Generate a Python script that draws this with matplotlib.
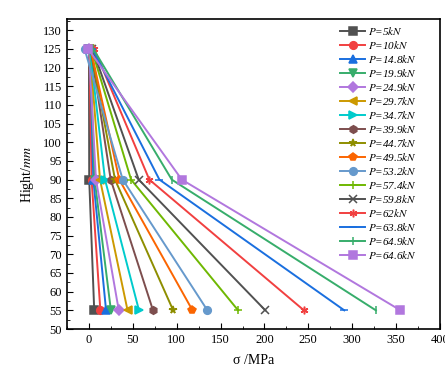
import matplotlib.pyplot as plt
from matplotlib.ticker import MultipleLocator

plt.rcParams['font.family'] = ['Liberation Serif', 'DejaVu Serif']
plt.rcParams['mathtext.fontset'] = 'stix'

# Measuring heights (mm)
heights = [125, 90, 55]

loads = ['5', '10', '14.8', '19.9', '24.9', '29.7', '34.7', '39.9', '44.7',
         '49.5', '53.2', '57.4', '59.8', '62', '63.8', '64.9', '64.6']

# Stress (MPa) at each height for every load level
s_top = [0, 0.5, 1, 1, 0, 1, 1, 2, 2, 2, -5, 3, 4, 6, 4, 5, -1]
s_mid = [0.3, 3, 5, 6.5, 8, 12.6, 18.3, 24.8, 29.7, 34.6, 38.5, 48, 56.7,
         68.8, 80.3, 94.4, 105.8]
s_bot = [6, 13, 19.5, 25, 34, 44, 57, 73, 96, 118, 135, 170, 201, 245,
         291, 327, 355]

colors = ['#515151', '#F14040', '#1A6FDF', '#37AD6B', '#B177DE', '#CC9900',
          '#00CBCC', '#7D4E4E', '#8E8E00', '#FB6501', '#6699CC', '#6FB802',
          '#515151', '#F14040', '#1A6FDF', '#37AD6B', '#B177DE']
markers = ['s', 'o', '^', 'v', 'D', '<', '>', 'h', '*', 'p', 'o', '+',
           'x', (6, 2, 0), '_', '|', 's']

fig = plt.figure(figsize=(4.45, 3.69), dpi=100)
ax = fig.add_axes([0.1506, 0.1084, 0.838, 0.840])

for i, p in enumerate(loads):
    xs = [s_top[i], s_mid[i], s_bot[i]]
    ax.plot(xs, heights, color=colors[i], marker=markers[i], markersize=5.5,
            markeredgewidth=1.1, linewidth=1.4, label='$P$=' + p + '$kN$')

ax.set_xlim(-25, 400)
ax.set_ylim(50, 133)
ax.xaxis.set_major_locator(MultipleLocator(50))
ax.xaxis.set_minor_locator(MultipleLocator(25))
ax.yaxis.set_major_locator(MultipleLocator(5))
ax.yaxis.set_minor_locator(MultipleLocator(2.5))
ax.tick_params(which='both', direction='in', top=False, right=False,
               labelsize=9)
ax.tick_params(which='major', length=4)
ax.tick_params(which='minor', length=2)
for sp in ax.spines.values():
    sp.set_linewidth(1.2)

ax.set_xlabel('σ /MPa', fontsize=10, labelpad=6)
ax.set_ylabel('Hight/$mm$', fontsize=10, labelpad=5)

leg = ax.legend(loc='upper left', bbox_to_anchor=(0.721, 0.995),
                frameon=False, fontsize=8, handlelength=2.25,
                handletextpad=0.27, labelspacing=0.18, borderaxespad=0)
for t in leg.get_texts():
    t.set_fontstyle('italic')

fig.savefig('out.png', dpi=100)
